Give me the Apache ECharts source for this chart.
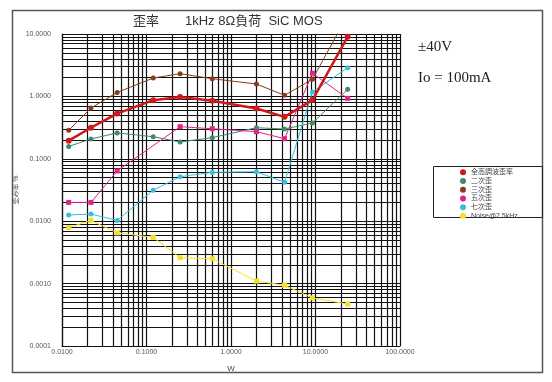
<!DOCTYPE html>
<html>
<head>
<meta charset="utf-8">
<script src="https://cdn.jsdelivr.net/npm/echarts@6/dist/echarts.min.js"></script>
<style>
html,body{margin:0;padding:0;background:#fff;}
#c{width:552px;height:382px;}
</style>
</head>
<body>
<div id="c"></div>
<script>
// ---- data ----
const power = [0.012, 0.022, 0.045, 0.12, 0.25, 0.6, 2, 4.3, 9.2, 24];
const thd   = [0.195, 0.315, 0.53, 0.87, 0.98, 0.85, 0.64, 0.47, 0.875, 9.0];
const h2    = [0.158, 0.208, 0.26, 0.226, 0.186, 0.218, 0.315, 0.30, 0.375, 1.30];
const h3    = [0.286, 0.65, 1.16, 1.97, 2.31, 1.92, 1.58, 1.04, 1.88, 20];
const h5    = [0.020, 0.020, 0.064, null, 0.327, 0.303, 0.272, 0.210, 2.35, 0.93];
const h7    = [0.0126, 0.0130, 0.0103, 0.0313, 0.0516, 0.0608, 0.0621, 0.0420, 1.18, 2.88];
const noise = [0.0079, 0.0103, 0.0065, 0.0055, 0.0026, 0.0025, 0.0011, 0.00094, 0.00059, 0.00047];
const seriesNames = ['全高調波歪率', '二次歪', '三次歪', '五次歪', '七次歪', 'Noise@2.5kHz'];
const xDecades = [0.01, 0.1, 1, 10];
const yDecades = [0.0001, 0.001, 0.01, 0.1, 1];
const gridMultiples = [1, 2, 3, 4, 5, 6, 7, 8, 9];
const xRange = [0.01, 100];
const yRange = [0.0001, 10];

const pairs = arr => power.map((p, i) => [p, arr[i]]);

const gridLines = [];
xDecades.forEach(d => gridMultiples.forEach(m => {
  const v = +(d * m).toPrecision(6);
  gridLines.push({coords: [[v, yRange[0]], [v, yRange[1]]]});
}));
gridLines.push({coords: [[xRange[1], yRange[0]], [xRange[1], yRange[1]]]});
yDecades.forEach(d => gridMultiples.forEach(m => {
  const v = +(d * m).toPrecision(6);
  gridLines.push({coords: [[xRange[0], v], [xRange[1], v]]});
}));
gridLines.push({coords: [[xRange[0], yRange[1]], [xRange[1], yRange[1]]]});

const colors = ['#d01818', '#3b8c6c', '#8b3a1c', '#e0228a', '#35bfe2', '#f3e224'];
const symbols = ['circle', 'circle', 'circle', 'rect', 'circle', 'rect'];
const values = [thd, h2, h3, h5, h7, noise];

const dataSeries = seriesNames.map((n, i) => ({
  name: n,
  type: 'line',
  data: pairs(values[i]),
  connectNulls: true,
  symbol: symbols[i],
  symbolSize: i === 0 ? 6 : 5,
  showSymbol: true,
  clip: true,
  z: i === 0 ? 5 : 4,
  lineStyle: {color: colors[i], width: i === 0 ? 2.5 : 1},
  itemStyle: {color: colors[i]}
}));

const font = '"Liberation Sans", Arial, "Noto Sans CJK JP", sans-serif';
const chart = echarts.init(document.getElementById('c'), null, {renderer: 'canvas'});
chart.setOption({
  animation: false,
  backgroundColor: '#fff',
  textStyle: {fontFamily: font},
  title: {
    text: '歪率　　1kHz 8Ω負荷  SiC MOS',
    left: 128, top: 10,
    textStyle: {fontSize: 13, fontWeight: 'normal', color: '#333', fontFamily: font}
  },
  grid: {left: 62, top: 34, right: 152, bottom: 36, containLabel: false},
  xAxis: {
    type: 'log', logBase: 10, min: xRange[0], max: xRange[1],
    name: 'W', nameLocation: 'middle', nameGap: 19, nameMoveOverlap: false,
    nameTextStyle: {fontSize: 8, color: '#444'},
    axisLine: {show: true, lineStyle: {color: '#111', width: 1.2}},
    axisTick: {show: false},
    axisLabel: {fontSize: 7, color: '#555', margin: 3, formatter: v => Number(v).toFixed(4)},
    splitLine: {show: false}
  },
  yAxis: {
    type: 'log', logBase: 10, min: yRange[0], max: yRange[1],
    name: '歪み率 %', nameLocation: 'middle', nameGap: 42, nameRotate: 90, nameMoveOverlap: false,
    nameTextStyle: {fontSize: 7, color: '#555'},
    axisLine: {show: true, lineStyle: {color: '#111', width: 1.2}},
    axisTick: {show: false},
    axisLabel: {fontSize: 7, color: '#555', margin: 11, formatter: v => Number(v).toFixed(4)},
    splitLine: {show: false}
  },
  legend: {
    left: 455, top: 163, orient: 'vertical',
    itemWidth: 6, itemHeight: 6, itemGap: 0,
    textStyle: {fontSize: 7, color: '#444', lineHeight: 8.7},
    data: seriesNames.map(n => ({name: n, icon: 'circle'})),
    selectedMode: false
  },
  graphic: [
    {type: 'rect', left: 10, top: 8, shape: {width: 530, height: 362},
     style: {fill: 'none', stroke: '#555', lineWidth: 1.5}, silent: true},
    {type: 'rect', left: 431, top: 164, shape: {width: 109, height: 51},
     style: {fill: 'none', stroke: '#222', lineWidth: 1}, silent: true},
    {type: 'text', left: 418, top: 40,
     style: {text: '±40V', font: '15px "Liberation Serif", "DejaVu Serif", serif', fill: '#222'}},
    {type: 'text', left: 418, top: 71,
     style: {text: 'Io = 100mA', font: '15px "Liberation Serif", "DejaVu Serif", serif', fill: '#222'}}
  ],
  series: [{
    name: 'grid-lines', type: 'lines', coordinateSystem: 'cartesian2d',
    polyline: false, silent: true, z: 1,
    lineStyle: {color: '#111', width: 1.2, opacity: 1, curveness: 0},
    effect: {show: false},
    data: gridLines
  }].concat(dataSeries)
});
</script>
</body>
</html>
